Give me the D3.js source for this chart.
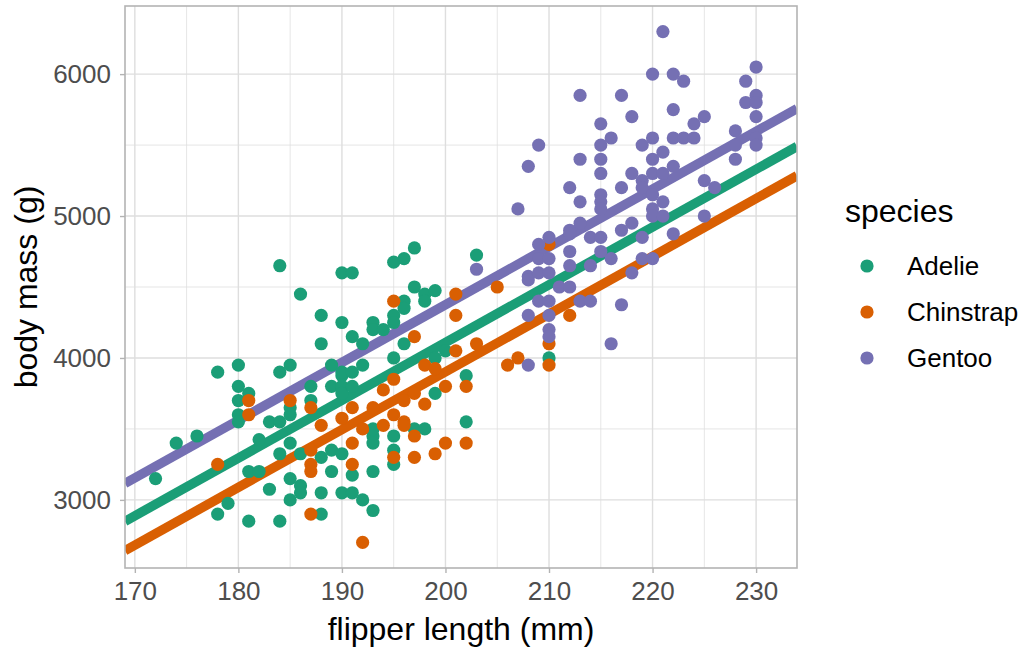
<!DOCTYPE html>
<html>
<head>
<meta charset="utf-8">
<script src="https://cdn.jsdelivr.net/npm/d3@7"></script>
<style>
  html, body { margin: 0; padding: 0; background: #fff; }
  svg { display: block; font-family: "Liberation Sans", Arial, sans-serif; }
</style>
</head>
<body>
<svg id="chart" width="1024" height="648"></svg>
<script>
// Penguin measurements: flipper length (mm) and body mass (g), one array per species
const adelieFlipper = [172,174,176,178,178,179,180,180,180,180,180,181,181,181,182,182,183,183,184,184,184,184,184,185,185,185,185,185,185,186,186,186,186,187,187,188,188,188,188,188,189,189,189,189,190,190,190,190,190,190,190,190,190,191,191,191,191,191,191,192,192,192,193,193,193,193,193,193,193,194,195,195,195,195,195,195,195,196,196,196,196,197,197,197,198,198,198,199,199,199,200,202,202,203,210];
const adelieMass    = [3150,3400,3450,3900,2900,2975,3950,3800,3700,3600,3550,3750,2850,3200,3200,3425,3550,3075,3900,3550,2850,4650,3325,3950,3650,3600,3150,3000,3400,4450,3100,3050,3325,3700,3800,4300,4100,2900,3050,3300,3800,3950,3200,3350,4250,4600,3875,3775,3050,3325,3900,3800,3750,4600,4150,3900,3800,3050,3175,4100,3950,3000,4250,4200,2925,3200,3450,3400,3500,4200,4675,4300,4250,4000,3250,3350,3450,4700,4400,4350,4100,4775,4500,3500,4450,4400,3500,4475,4000,3750,4050,3875,3550,4725,4000];

const chinstrapFlipper = [178,181,181,185,187,187,187,187,187,188,190,191,191,191,192,192,193,194,194,195,195,195,195,196,196,196,197,197,197,197,198,198,199,199,200,200,201,201,201,202,202,203,205,206,207,210,210,210,212];
const chinstrapMass    = [3250,3700,3600,3700,3650,2900,3250,3200,3350,3525,3575,3650,3250,3400,2700,3500,3650,3775,3525,4400,3850,3600,3300,3700,3550,3525,4150,3750,3300,3450,3950,3675,3925,3325,3800,3400,4300,4450,4050,3800,3400,4100,4500,3950,4000,4100,3950,4800,4300];

const gentooFlipper = [203,207,208,208,208,208,208,209,209,209,209,209,210,210,210,210,210,210,210,211,212,212,212,212,212,212,213,213,213,213,213,214,214,214,215,215,215,215,215,215,215,215,215,216,216,216,217,217,217,217,218,218,218,218,219,219,219,219,219,220,220,220,220,220,220,220,220,221,221,221,221,221,222,222,222,222,222,223,223,224,224,225,225,225,226,228,228,228,229,229,230,230,230,230,230,230];
const gentooMass    = [4625,5050,5350,4575,4300,3950,4550,5500,4800,4700,4600,4400,4850,4700,4600,4400,4300,4200,4150,4500,4500,5200,4900,4750,4650,4875,5850,5400,5100,4950,4400,4850,4650,4400,5650,5500,5400,5300,5150,5100,5050,4850,4750,5550,4700,4100,5850,5200,4900,4375,5700,5300,4950,4600,5500,5250,5200,4850,4700,6000,5550,5400,5300,5150,5050,5000,4700,6300,5450,5300,5100,5000,6000,5750,5550,5350,4875,5950,5550,5650,5550,5700,5250,5000,5200,5600,5400,5500,5950,5800,6050,5850,5800,5700,5550,5500];

// Parallel-slopes fit: shared slope, one intercept per species
const species = ["Adelie", "Chinstrap", "Gentoo"];
const fitSlope = 40.7;
const fitIntercepts = [-4031.5, -4238.0, -3764.7];
const colors = ["#1B9E77", "#D95F02", "#7570B3"];

// Axis limits and ticks
const flipperLimits = [169.05, 233.95];
const massLimits = [2520, 6480];
const xTicks = [170, 180, 190, 200, 210, 220, 230];
const xMinor = [175, 185, 195, 205, 215, 225];
const yTicks = [3000, 4000, 5000, 6000];
const yMinor = [3500, 4500, 5500];

const flippers = [adelieFlipper, chinstrapFlipper, gentooFlipper];
const masses = [adelieMass, chinstrapMass, gentooMass];

const points = [];
species.forEach((s, i) => {
  flippers[i].forEach((f, j) => points.push({ species: s, flipper: f, mass: masses[i][j] }));
});

const panel = { left: 125, right: 797, top: 6, bottom: 568 };

const x = d3.scaleLinear().domain(flipperLimits).range([panel.left, panel.right]);
const y = d3.scaleLinear().domain(massLimits).range([panel.bottom, panel.top]);
const color = d3.scaleOrdinal().domain(species).range(colors);

const svg = d3.select("#chart");

svg.append("defs").append("clipPath").attr("id", "panel-clip")
  .append("rect")
  .attr("x", panel.left).attr("y", panel.top)
  .attr("width", panel.right - panel.left).attr("height", panel.bottom - panel.top);

// Grid lines
const grid = svg.append("g");
grid.selectAll(".vminor").data(xMinor).join("line")
  .attr("x1", d => x(d)).attr("x2", d => x(d))
  .attr("y1", panel.top).attr("y2", panel.bottom)
  .attr("stroke", "#dedede").attr("stroke-width", 0.8);
grid.selectAll(".hminor").data(yMinor).join("line")
  .attr("x1", panel.left).attr("x2", panel.right)
  .attr("y1", d => y(d)).attr("y2", d => y(d))
  .attr("stroke", "#dedede").attr("stroke-width", 0.8);
grid.selectAll(".vmajor").data(xTicks).join("line")
  .attr("x1", d => x(d)).attr("x2", d => x(d))
  .attr("y1", panel.top).attr("y2", panel.bottom)
  .attr("stroke", "#dedede").attr("stroke-width", 1.4);
grid.selectAll(".hmajor").data(yTicks).join("line")
  .attr("x1", panel.left).attr("x2", panel.right)
  .attr("y1", d => y(d)).attr("y2", d => y(d))
  .attr("stroke", "#dedede").attr("stroke-width", 1.4);

// Fitted lines
const fitLayer = svg.append("g").attr("clip-path", "url(#panel-clip)");
const xd = x.domain();
species.forEach((s, i) => {
  const line = xd.map(f => [f, fitIntercepts[i] + fitSlope * f]);
  fitLayer.append("path")
    .datum(line)
    .attr("d", d3.line().x(d => x(d[0])).y(d => y(d[1])))
    .attr("fill", "none")
    .attr("stroke", color(s))
    .attr("stroke-width", 9.5);
});

// Points
svg.append("g").attr("clip-path", "url(#panel-clip)")
  .selectAll("circle").data(points).join("circle")
  .attr("cx", d => x(d.flipper))
  .attr("cy", d => y(d.mass))
  .attr("r", 6.6)
  .attr("fill", d => color(d.species));

// Panel border
svg.append("rect")
  .attr("x", panel.left).attr("y", panel.top)
  .attr("width", panel.right - panel.left).attr("height", panel.bottom - panel.top)
  .attr("fill", "none").attr("stroke", "#b3b3b3").attr("stroke-width", 1.6);

// Axes
const xAxis = svg.append("g")
  .attr("transform", `translate(0,${panel.bottom})`)
  .call(d3.axisBottom(x).tickValues(xTicks).tickSize(5).tickPadding(9));
const yAxis = svg.append("g")
  .attr("transform", `translate(${panel.left},0)`)
  .call(d3.axisLeft(y).tickValues(yTicks).tickSize(5).tickPadding(9).tickFormat(d3.format("d")));
[xAxis, yAxis].forEach(a => {
  a.select(".domain").remove();
  a.selectAll(".tick line").attr("stroke", "#b3b3b3").attr("stroke-width", 1.4);
  a.selectAll(".tick text").attr("fill", "#4d4d4d").style("font-size", "26px")
    .style("font-family", "'Liberation Sans', Arial, sans-serif");
});

// Axis titles
svg.append("text")
  .attr("x", (panel.left + panel.right) / 2).attr("y", 640)
  .attr("text-anchor", "middle")
  .style("font-size", "32px").attr("fill", "#000")
  .text("flipper length (mm)");
svg.append("text")
  .attr("transform", `translate(37,${(panel.top + panel.bottom) / 2}) rotate(-90)`)
  .attr("text-anchor", "middle")
  .style("font-size", "32px").attr("fill", "#000")
  .text("body mass (g)");

// Legend
const legend = svg.append("g").attr("transform", "translate(845,0)");
legend.append("text")
  .attr("x", 0).attr("y", 222)
  .style("font-size", "32px").attr("fill", "#000")
  .text("species");
const items = legend.selectAll(".item").data(species).join("g")
  .attr("transform", (d, i) => `translate(0,${266 + i * 46})`);
items.append("circle").attr("cx", 22).attr("cy", 0).attr("r", 6.6).attr("fill", d => color(d));
items.append("text").attr("x", 62).attr("y", 9)
  .style("font-size", "26px").attr("fill", "#000")
  .text(d => d);
</script>
</body>
</html>
